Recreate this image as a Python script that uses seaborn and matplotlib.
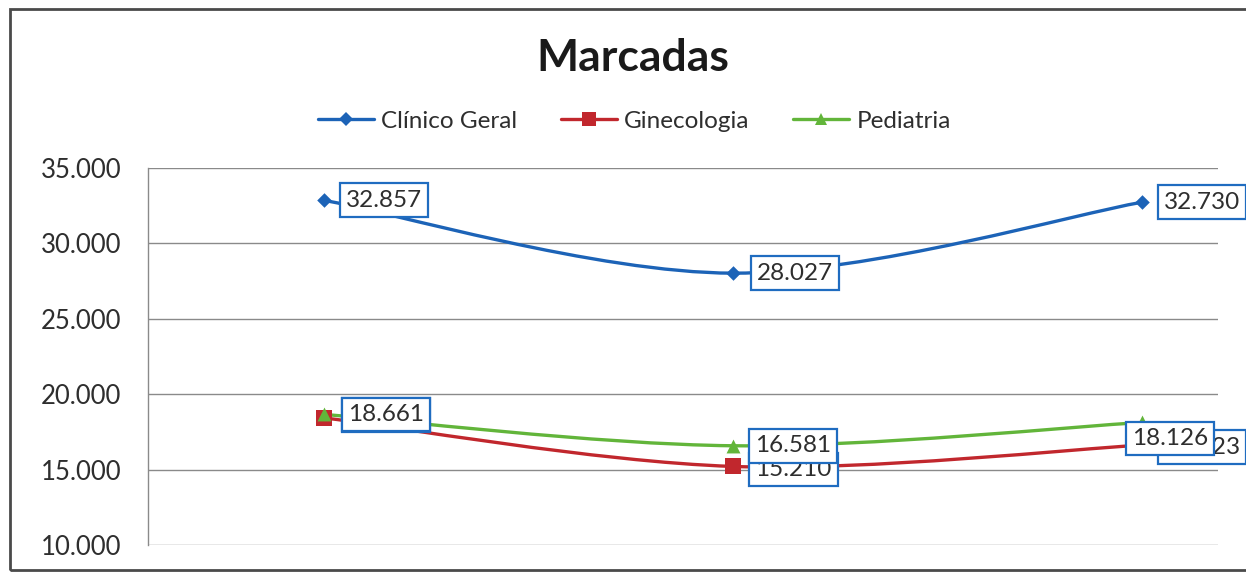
import numpy as np
import matplotlib
matplotlib.use("Agg")
import matplotlib.pyplot as plt
import seaborn as sns
from matplotlib.path import Path
from matplotlib.patches import PathPatch, Rectangle
from matplotlib.lines import Line2D
from matplotlib.ticker import FuncFormatter

# Dados
periodos = [0, 1, 2]
clinico_geral = [32857, 28027, 32730]
ginecologia = [18430, 15210, 16623]
pediatria = [18661, 16581, 18126]

series = ["Clínico Geral", "Ginecologia", "Pediatria"]
valores = [clinico_geral, ginecologia, pediatria]
cores = ["#1c63b7", "#c1272d", "#62b53a"]
marcadores = ["D", "s", "^"]
tam_marc = [55, 120, 100]

# deslocamento dos rótulos (pixels) por série e ponto
desloc = [
    [(22, 0), (24, 0), (22, 0)],
    [(24, 3), (22, -3), (22, -2)],
    [(24, 0), (22, 0), (-10, -16)],
]

sns.set_style("white")
plt.rcParams["font.family"] = ["Lato", "DejaVu Sans"]


def curva_suave(xs, ys):
    # curva de Bezier estilo Excel (Catmull-Rom)
    pts = np.column_stack([xs, ys]).astype(float)
    n = len(pts)
    verts = [pts[0]]
    codes = [Path.MOVETO]
    for i in range(n - 1):
        p0 = pts[max(i - 1, 0)]
        p1 = pts[i]
        p2 = pts[i + 1]
        p3 = pts[min(i + 2, n - 1)]
        c1 = p1 + (p2 - p0) / 6
        c2 = p2 - (p3 - p1) / 6
        verts += [c1, c2, p2]
        codes += [Path.CURVE4] * 3
    return Path(verts, codes)


fig = plt.figure(figsize=(12.46, 5.74), dpi=100)
fig.patch.set_facecolor("white")
ax = fig.add_axes([148 / 1246, 1 - 545 / 574, (1218 - 148) / 1246, (545 - 168) / 574])

for nome, ys, cor, mk, s in zip(series, valores, cores, marcadores, tam_marc):
    ax.add_patch(PathPatch(curva_suave(periodos, ys), fill=False, edgecolor=cor, lw=2.4, zorder=3))
    sns.scatterplot(x=periodos, y=ys, marker=mk, color=cor, s=s, edgecolor=cor, linewidth=0, zorder=4, ax=ax)

# rótulos de dados
for k, (ys, offs) in enumerate(zip(valores, desloc)):
    for x, y, (dx, dy) in zip(periodos, ys, offs):
        txt = f"{y:,.0f}".replace(",", ".")
        ax.annotate(txt, (x, y), xytext=(dx, dy), textcoords="offset pixels",
                    ha="left", va="center", fontsize=17.5, color="#2e2e2e",
                    annotation_clip=False, zorder=10 + k,
                    bbox=dict(boxstyle="square,pad=0.26", fc="white", ec="#1f6cc0", lw=1.6))

ax.set_ylim(10000, 35000)
ax.set_xlim(-0.430, 2.186)
ax.set_yticks(range(10000, 35001, 5000))
ax.yaxis.set_major_formatter(FuncFormatter(lambda v, p: f"{v:,.0f}".replace(",", ".")))
ax.set_xticks([])
ax.tick_params(axis="y", length=0, pad=19, labelsize=18.5, labelcolor="#2e2e2e")
ax.grid(axis="y", color="#8a8a8a", lw=1)
for lado in ["top", "right", "bottom"]:
    ax.spines[lado].set_visible(False)
ax.spines["left"].set_color("#8a8a8a")
ax.spines["left"].set_linewidth(1)
ax.set_facecolor("none")

fig.text(0.508, 0.899, "Marcadas", ha="center", va="center", fontsize=32,
         fontweight="bold", color="#1a1a1a")

handles = [Line2D([0], [0], color=c, lw=2.4, marker=m, markersize=ms, markeredgewidth=0)
           for c, m, ms in zip(cores, marcadores, [7, 10, 9])]
fig.legend(handles, series, loc="center", bbox_to_anchor=(0.509, 0.789), ncol=3,
           frameon=False, fontsize=17.5, handlelength=2.3, handletextpad=0.3,
           columnspacing=1.8, labelcolor="#2e2e2e")

fig.add_artist(Rectangle((10 / 1246, 4 / 574), 1.5, (570 - 9) / 574, transform=fig.transFigure,
                         fill=False, edgecolor="#4a4a4a", lw=2))

fig.savefig("out.png", dpi=100)
